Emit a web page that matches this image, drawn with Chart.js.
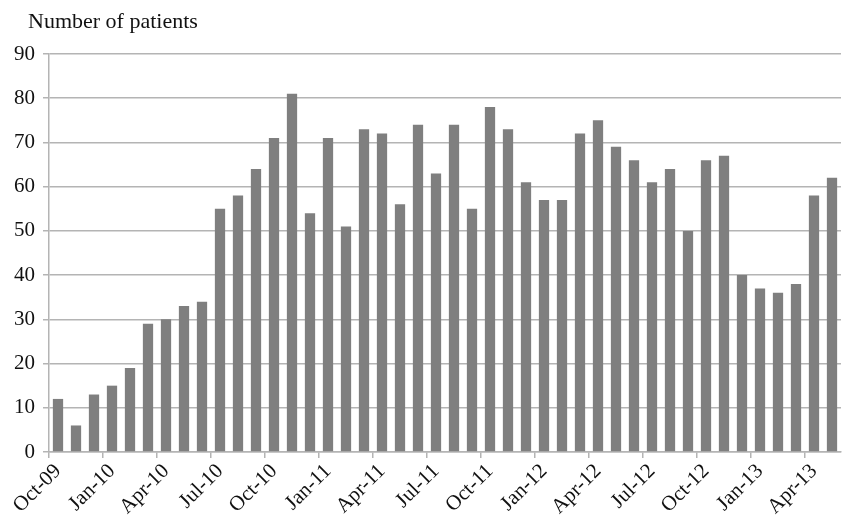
<!DOCTYPE html>
<html>
<head>
<meta charset="utf-8">
<script src="https://cdn.jsdelivr.net/npm/chart.js@4/dist/chart.umd.min.js"></script>
<style>
  html, body { margin: 0; padding: 0; background: #ffffff; }
  #wrap { width: 845px; height: 516px; position: relative; }
</style>
</head>
<body>
<div id="wrap"><canvas id="c" width="845" height="516"></canvas></div>
<script>
const months = [
  "Oct-09","Nov-09","Dec-09","Jan-10","Feb-10","Mar-10","Apr-10","May-10","Jun-10",
  "Jul-10","Aug-10","Sep-10","Oct-10","Nov-10","Dec-10","Jan-11","Feb-11","Mar-11",
  "Apr-11","May-11","Jun-11","Jul-11","Aug-11","Sep-11","Oct-11","Nov-11","Dec-11",
  "Jan-12","Feb-12","Mar-12","Apr-12","May-12","Jun-12","Jul-12","Aug-12","Sep-12",
  "Oct-12","Nov-12","Dec-12","Jan-13","Feb-13","Mar-13","Apr-13","May-13"
];
const patients = [
  12, 6, 13, 15, 19, 29, 30, 33, 34,
  55, 58, 64, 71, 81, 54, 71, 51, 73,
  72, 56, 74, 63, 74, 55, 78, 73, 61,
  57, 57, 72, 75, 69, 66, 61, 64, 50,
  66, 67, 40, 37, 36, 38, 58, 62
];
const yAxisTitle = "Number of patients";
const yMax = 90;
const yStep = 10;

const serif = "'Liberation Serif', 'Times New Roman', serif";
const gridGray = '#b4b4b4';

const titlePlugin = {
  id: 'topTitle',
  afterDraw(chart) {
    const ctx = chart.ctx;
    ctx.save();
    ctx.font = "22px " + serif;
    ctx.fillStyle = '#111111';
    ctx.textAlign = 'left';
    ctx.textBaseline = 'alphabetic';
    ctx.fillText(yAxisTitle, chart.chartArea.left - 21, 28);
    ctx.restore();
  }
};

new Chart(document.getElementById('c'), {
  type: 'bar',
  data: {
    labels: months,
    datasets: [{
      data: patients,
      backgroundColor: '#7f7f7f',
      borderWidth: 0,
      barPercentage: 0.57,
      categoryPercentage: 1.0
    }]
  },
  options: {
    responsive: false,
    animation: false,
    events: [],
    layout: { padding: { top: 54, right: 4, left: 0, bottom: 0 } },
    plugins: {
      legend: { display: false },
      tooltip: { enabled: false },
      title: { display: false }
    },
    scales: {
      x: {
        offset: true,
        grid: {
          offset: true,
          drawOnChartArea: false,
          drawTicks: true,
          tickLength: 6,
          color: (ctx) => (ctx.index % 3 === 0 ? gridGray : 'rgba(0,0,0,0)'),
          lineWidth: 1.5
        },
        border: { display: true, color: gridGray, width: 1.5 },
        ticks: {
          autoSkip: false,
          minRotation: 45,
          maxRotation: 45,
          padding: 1,
          color: '#111111',
          font: { family: serif, size: 21 },
          callback: function(value, index) {
            return index % 3 === 0 ? this.getLabelForValue(value) : '';
          }
        },
        afterFit(scale) {
          scale.height = 64;
          scale.paddingRight = 0;
          scale.paddingLeft = 0;
        }
      },
      y: {
        min: 0,
        max: yMax,
        ticks: {
          stepSize: yStep,
          padding: 8,
          color: '#111111',
          font: { family: serif, size: 21 }
        },
        grid: {
          color: gridGray,
          lineWidth: 1.5,
          tickLength: 6,
          drawTicks: true
        },
        border: { display: true, color: gridGray, width: 1.5 },
        afterFit(scale) { scale.width = 49; }
      }
    }
  },
  plugins: [titlePlugin]
});
</script>
</body>
</html>
